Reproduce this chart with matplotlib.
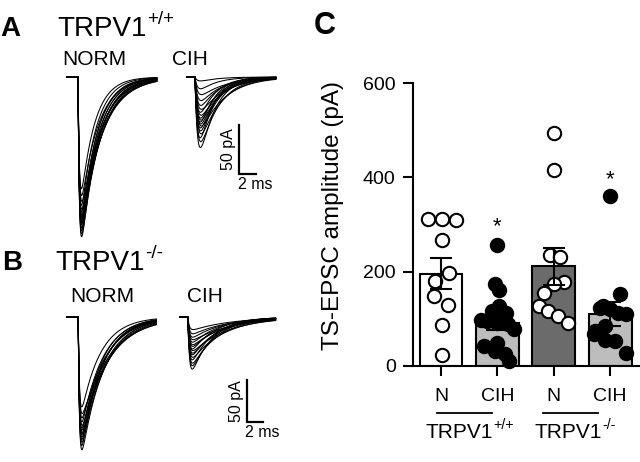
import numpy as np
import matplotlib
matplotlib.use('Agg')
import matplotlib.pyplot as plt
from matplotlib.transforms import blended_transform_factory, offset_copy

plt.rcParams['font.family'] = ['Liberation Sans', 'DejaVu Sans']

# ---- panel C data (pA) ----
groups = ['N', 'CIH', 'N', 'CIH']
genotypes = ['TRPV1', 'TRPV1']
genotype_sup = ['+/+', '-/-']
bar_means = [196, 92, 211, 110]
bar_sem = [32, 15, 40, 26]
bar_colors = ['white', '#bdbdbd', '#6b6b6b', '#bdbdbd']

n_wt = [311, 311, 309, 268, 198, 181, 149, 130, 87, 23]
n_wt_x = [-0.23, 0.02, 0.27, 0.02, 0.14, -0.11, -0.12, 0.12, 0.02, 0.02]
cih_wt = [257, 174, 162, 128, 117, 113, 98, 96, 92, 89, 79, 43, 49, 32, 26, 11]
cih_wt_x = [0, -0.05, 0.02, 0.02, -0.09, 0.16, -0.29, -0.18, 0, 0.18, 0.3, -0.23, 0, -0.05, 0.13, 0.21]
n_ko = [494, 415, 236, 232, 179, 174, 155, 128, 117, 106, 91]
n_ko_x = [0, 0, -0.07, 0.11, 0.18, 0, -0.18, -0.27, -0.11, 0.07, 0.25]
cih_ko = [360, 153, 128, 123, 121, 113, 111, 85, 74, 68, 55, 53, 28]
cih_ko_x = [0, 0.18, -0.12, -0.18, 0, 0.14, 0.29, -0.09, -0.27, -0.29, -0.09, 0.09, 0.29]

star_idx = [1, 3]
star_y = [312, 411]

# ---- panel A/B traces: peak amplitude (pA) and decay (ms) per sweep ----
a_norm_amp = [163, 160, 157, 154, 151, 149, 147, 145, 143, 141, 138, 135, 131, 127, 121, 114]
a_norm_tau = [2.0, 2.2, 1.9, 2.3, 2.1, 2.4, 1.8, 2.2, 2.0, 2.5, 1.9, 2.3, 1.7, 2.6, 2.0, 1.6]
a_cih_amp = [72, 66, 62, 58, 55, 52, 50, 48, 46, 44, 42, 39, 36, 33, 29, 24, 18, 12, 4]
a_cih_tau = [1.8, 2.2, 1.6, 2.5, 2.0, 1.9, 2.8, 2.1, 1.7, 2.4, 2.0, 2.6, 1.8, 2.9, 2.2, 2.5, 3.0, 2.0, 2.0]
b_norm_amp = [158, 153, 149, 146, 143, 140, 138, 135, 132, 129, 125, 120, 115, 107]
b_norm_tau = [2.8, 2.5, 3.0, 2.6, 2.9, 2.7, 3.2, 2.5, 2.8, 3.4, 2.6, 3.0, 3.6, 2.4]
b_cih_amp = [62, 58, 55, 51, 48, 45, 43, 40, 38, 35, 33, 30, 27, 24, 20, 15]
b_cih_tau = [2.6, 3.0, 3.4, 2.8, 4.0, 3.2, 3.6, 4.5, 3.0, 3.8, 4.2, 3.5, 5.0, 4.0, 4.5, 5.0]

W, H = 640, 462
fig = plt.figure(figsize=(6.4, 4.62), dpi=100)
renderer = fig.canvas.get_renderer()


def px_axes(x0, y0, x1, y1):
    return fig.add_axes([x0 / W, 1 - y1 / H, (x1 - x0) / W, (y1 - y0) / H])


def ptext(x, y, s, **kw):
    return fig.text(x / W, 1 - y / H, s, **kw)


def sup_label(x, y, base, sup, size, ha='left', transform=None):
    # main text followed by a raised, smaller superscript
    trans = transform if transform is not None else fig.transFigure
    t = fig.text(x, y, base, fontsize=size, ha='left', va='baseline', transform=trans)
    s = fig.text(x, y, sup, fontsize=size * 0.68, ha='left', va='baseline', transform=trans)
    wb = t.get_window_extent(renderer).width
    ws = s.get_window_extent(renderer).width
    shift = 0 if ha == 'left' else -(wb + ws + 1) / 2
    t.set_transform(offset_copy(trans, fig=fig, x=shift, y=0, units='dots'))
    s.set_transform(offset_copy(trans, fig=fig, x=shift + wb + 1, y=size * 0.42 * 100 / 72,
                                units='dots'))


def sweep(t, onset, amp, tau_r, tau_d):
    s = np.clip(t - onset, 0, None)
    w = np.exp(-s / tau_d) - np.exp(-s / tau_r)
    return -amp * w / w.max()


def trace_panel(box, x_org, y_org, px_ms, px_pa, sets, bar):
    ax = px_axes(*box)
    x0, y0, x1, y1 = box
    ax.set_xlim((x0 - x_org) / px_ms, (x1 - x_org) / px_ms)
    ax.set_ylim((y_org - y1) / px_pa, (y_org - y0) / px_pa)
    ax.axis('off')
    for start, dur, onset, tau_r, amps, taus in sets:
        t = np.arange(0, dur, 0.02)
        for a, td in zip(amps, taus):
            ax.plot(start + t, sweep(t, onset, a, tau_r, td), color='black', lw=0.75)
    bx, by = bar
    ax.plot([bx, bx, bx + 2], [by + 50, by, by], color='black', lw=1.6,
            solid_joinstyle='miter')
    ax.text(bx - 0.35, by + 25, '50 pA', rotation=90, ha='right', va='center', fontsize=11.5)
    ax.text(bx + 1.9, by - 3, '2 ms', ha='center', va='top', fontsize=11.5)
    return ax


trace_panel((55, 62, 300, 245), 67, 77, 8.5, 0.98,
            [(0, 10.6, 1.3, 0.15, a_norm_amp, a_norm_tau),
             (14.1, 10.5, 0.95, 0.3, a_cih_amp, a_cih_tau)],
            (20.2, -99))
trace_panel((55, 300, 300, 462), 67, 317, 8.0, 0.84,
            [(0, 11.2, 1.4, 0.15, b_norm_amp, b_norm_tau),
             (14.1, 12.0, 1.0, 0.2, b_cih_amp, b_cih_tau)],
            (22.5, -125))

# panel labels and titles
ptext(0, 36, 'A', fontsize=20, fontweight='bold', ha='left', va='baseline')
ptext(2, 270, 'B', fontsize=20, fontweight='bold', ha='left', va='baseline')
ptext(314, 34, 'C', fontsize=22, fontweight='bold', ha='left', va='baseline')
sup_label(57 / W, 1 - 36 / H, genotypes[0], genotype_sup[0], 20)
sup_label(55 / W, 1 - 270 / H, genotypes[1], genotype_sup[1], 20)
ptext(62, 65, 'NORM', fontsize=15, ha='left', va='baseline')
ptext(172, 65, 'CIH', fontsize=15, ha='left', va='baseline')
ptext(70, 302, 'NORM', fontsize=15, ha='left', va='baseline')
ptext(187, 302, 'CIH', fontsize=15, ha='left', va='baseline')

# ---- panel C ----
ax = px_axes(413, 83, 640, 366)
pos = np.arange(len(groups))
ax.bar(pos, bar_means, width=0.76, color=bar_colors, edgecolor='black', linewidth=1.5, zorder=1)
pts = [(n_wt, n_wt_x, 'white'), (cih_wt, cih_wt_x, 'black'),
       (n_ko, n_ko_x, 'white'), (cih_ko, cih_ko_x, 'black')]
for k, (vals, dx, fc) in enumerate(pts):
    ax.scatter(k + np.array(dx), vals, s=92, facecolor=fc, edgecolor='black',
               linewidth=1.5, zorder=2, clip_on=False)
ax.errorbar(pos, bar_means, yerr=bar_sem, fmt='none', ecolor='black',
            elinewidth=1.5, capsize=8, capthick=1.5, zorder=3)
for k, y in zip(star_idx, star_y):
    ax.annotate('*', (k, y), xytext=(0, -0.58 * 16), textcoords='offset points',
                ha='center', va='baseline', fontsize=16)

ax.set_xlim(-0.497, 3.53)
ax.set_ylim(0, 600)
ax.set_yticks([0, 200, 400, 600])
ax.set_xticks(pos, groups)
for s in ['top', 'right']:
    ax.spines[s].set_visible(False)
for s in ['left', 'bottom']:
    ax.spines[s].set_linewidth(1.5)
ax.tick_params(axis='y', length=7.5, width=1.5, labelsize=14, pad=5)
ax.tick_params(axis='x', length=7.5, width=1.5, labelsize=14, pad=8)

ptext(333, 216, 'TS-EPSC amplitude (pA)', rotation=90, ha='center', va='center', fontsize=17.5)

tr = blended_transform_factory(ax.transData, fig.transFigure)
for c in [0.42, 2.3]:
    ax.plot([c - 0.49, c + 0.49], [1 - 413 / H] * 2, color='black', lw=1.3,
            transform=tr, clip_on=False)
for c, lab, sup in zip([0.51, 2.38], genotypes, genotype_sup):
    xf = ax.transData.transform((c, 0))[0] / W
    sup_label(xf, 1 - 438 / H, lab, sup, 15, ha='center')

fig.savefig('out.png', dpi=100)
